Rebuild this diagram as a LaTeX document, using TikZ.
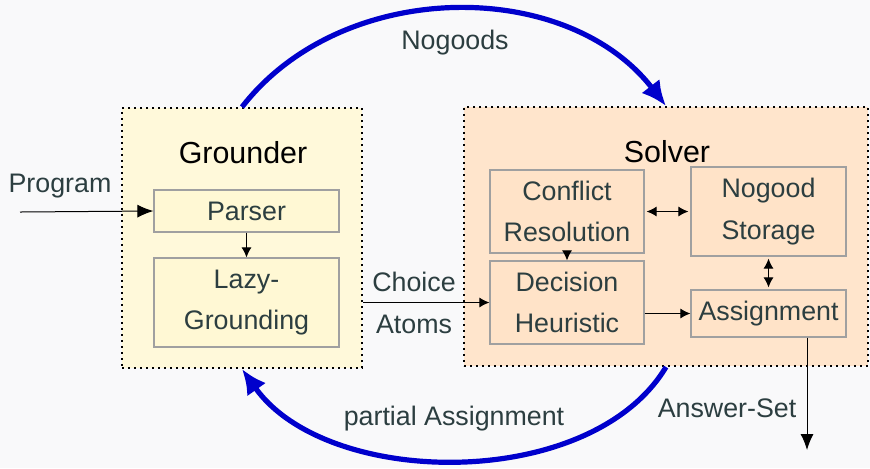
\documentclass[tikz,border=0pt]{standalone}
\usepackage{fontspec}
\setmainfont{Liberation Sans}
\usetikzlibrary{arrows.meta}
\definecolor{bgcol}{RGB}{249,249,250}
\definecolor{txtcol}{RGB}{44,62,64}
\definecolor{groundfill}{RGB}{255,249,218}
\definecolor{groundunit}{RGB}{255,248,212}
\definecolor{solvefill}{RGB}{255,229,204}
\definecolor{solveunit}{RGB}{255,227,200}
\definecolor{unitline}{RGB}{160,160,160}
\definecolor{arcblue}{RGB}{0,0,204}
\tikzset{
  stage/.style={draw=black,line width=1pt,dash pattern=on 1pt off 2pt,inner sep=0pt},
  title/.style={font=\fontsize{15.2}{20}\selectfont,inner sep=0pt},
  unit/.style={draw=unitline,line width=0.6pt,inner sep=0pt,align=center,text=txtcol},
  lbl/.style={text=txtcol,align=center,inner sep=0pt},
  flow/.style={-{Latex[length=5pt,width=5pt]},line width=0.5pt},
  bigflow/.style={-{Latex[length=8pt,width=6.5pt]},line width=0.5pt},
  bigarc/.style={-{Latex[length=12.5pt,width=11.5pt]},line width=2.6pt,draw=arcblue},
}

\begin{document}
\begin{tikzpicture}[x=0.5pt,y=-0.5pt,font=\fontsize{13.4}{20.6}\selectfont]
	\fill[bgcol] (0,0) rectangle (870,468);
	\useasboundingbox (0,0) rectangle (870,468);
	% the two stages
	\node[stage,fill=groundfill,minimum width=120pt,minimum height=130pt] (grounder) at (242,238) {};
	\node[stage,fill=solvefill,minimum width=202pt,minimum height=129.5pt] (solver) at (666,236.5) {};
	\node[title] (grounderlbl) at (243,153) {Grounder};
	\node[title] (solverlbl) at (667,152) {Solver};
	% grounder parts
	\node[unit,fill=groundunit,minimum width=92.5pt,minimum height=21pt] (parser) at (246.5,211) {Parser};
	\node[unit,fill=groundunit,minimum width=92.5pt,minimum height=44.5pt] (lazy) at (246.5,302.5) {Lazy-\\Grounding};
	% solver parts
	\node[unit,fill=solveunit,minimum width=77pt,minimum height=41.5pt] (conflict) at (567,211.5) {Conflict\\Resolution};
	\node[unit,fill=solveunit,minimum width=77.5pt,minimum height=44.5pt] (nogood) at (768.5,211.5) {Nogood\\Storage};
	\node[unit,fill=solveunit,minimum width=77pt,minimum height=41.5pt] (decision) at (567,302.5) {Decision\\Heuristic};
	\node[unit,fill=solveunit,minimum width=77.5pt,minimum height=23.5pt] (assign) at (768.5,313.5) {Assignment};
	% labels
	\node[lbl] (program) at (60,186) {Program};
	\node[lbl] (nogoods) at (455,43) {Nogoods};
	\node[lbl] (choice) at (414,303) {Choice\\Atoms};
	\node[lbl] (answerset) at (727,408) {Answer-Set};
	\node[lbl] (partial) at (454,419) {partial Assignment};
	\coordinate (progin) at (20,212);
	\coordinate (ansout) at (807,450);
	% connectors
	\draw[bigflow] (progin) -- (parser.west);
	\draw[bigflow] (assign.south -| ansout) -- (ansout);
	\path[flow]
		(parser) edge (lazy)
		(conflict) edge (decision)
		(grounder.east |- decision.west) edge (decision.west)
		(decision.east |- assign.west) edge (assign.west);
	\path[flow,{Latex[length=5pt,width=5pt]}-{Latex[length=5pt,width=5pt]},shorten <=1pt,shorten >=1pt]
		(conflict) edge (nogood)
		(nogood) edge (assign);
	\draw[bigarc] (grounder.north) .. controls +(100,-129) and +(-100,-129) .. (solver.north);
	\draw[bigarc] (solver.south) .. controls +(-75,125) and +(85,120) .. (grounder.south);
\end{tikzpicture}
\end{document}
